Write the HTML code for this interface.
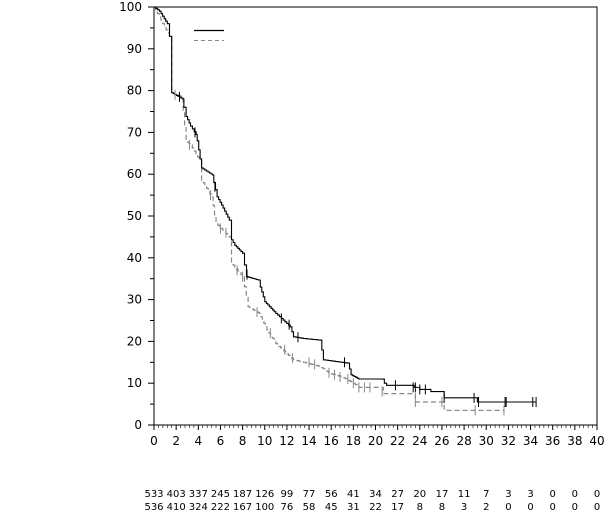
<!DOCTYPE html>
<html><head><meta charset="utf-8"><style>
body{margin:0;background:#fff;}
svg{display:block;font-family:"DejaVu Sans","Liberation Sans",sans-serif;}
</style></head><body>
<svg id="s" width="605" height="528" viewBox="0 0 605 528" xmlns="http://www.w3.org/2000/svg">
<rect x="154" y="7" width="443" height="418" fill="none" stroke="#000" stroke-width="1"/>
<g id="ax" stroke="#000" stroke-width="1"></g>
<g id="lbl" font-size="12" fill="#000"></g>
<line x1="194" y1="30.5" x2="224" y2="30.5" stroke="#000" stroke-width="1.2"/>
<line x1="194" y1="40.5" x2="224" y2="40.5" stroke="#888" stroke-width="1" stroke-dasharray="4,3"/>
<path id="g" fill="none" stroke="#888" stroke-width="1.2" stroke-dasharray="5,3"/>
<path id="b" fill="none" stroke="#000" stroke-width="1.1"/>
<g id="cens" stroke-width="1"></g>
<g id="risk" font-size="10" fill="#000" text-anchor="middle"></g>
</svg>
<script>
const X=t=>154+t*443/40, Y=v=>425-v*4.18;
const ax=document.getElementById('ax'), lbl=document.getElementById('lbl');
let h='',l='';
for(let v=0;v<=100;v+=5){const y=Y(v);h+=`<line x1="${v%10?150:148}" y1="${y}" x2="154" y2="${y}"/>`;
 if(v%10==0)l+=`<text x="142" y="${y+4}" text-anchor="end">${v}</text>`;}
for(let t=0;t<=40;t+=0.4){const x=X(t);const big=Math.abs(t-Math.round(t/2)*2)<0.01;h+=`<line x1="${x}" y1="425" x2="${x}" y2="${big?430:428}" stroke-width="${big?1:0.6}"/>`;}
for(let t=0;t<=40;t+=2)l+=`<text x="${X(t)}" y="445" text-anchor="middle">${t}</text>`;
ax.innerHTML=h;lbl.innerHTML=l;
const B=[[0,100],[0.5,99],[1.2,96],[1.4,93],[1.6,79.5],[2.6,78],[2.7,76],[2.9,73.8],[3.3,71.5],[3.8,69.5],[3.9,68],[4.3,61.5],[5.3,59.8],[5.4,58],[5.7,54.6],[6.1,52.6],[6.8,49],[7.0,44.3],[7.3,43],[8.0,41.1],[8.35,35.5],[9.4,34.7],[9.6,33],[10,29.5],[11,26.7],[11.5,25.5],[12.3,23.5],[12.6,21.1],[13.5,20.7],[15,20.3],[15.3,15.6],[17.5,14.8],[17.8,12],[18.5,11]];
const BT=[[20.5,11],[20.8,10],[21,9.5],[23.5,9],[24,8.5],[25,8],[26.2,6.5],[29,6.5],[29.2,5.5],[34.5,5.5]];
const G=[[0,100],[1.4,93],[1.6,79.5],[2.5,78.5],[2.9,68],[3.3,67],[4.1,63.4],[4.3,58.6],[5.2,54.6],[5.6,48.2],[6.8,45],[7.0,38.7],[8.0,35.5],[8.5,28.3],[9.5,26.7],[10.2,22.7],[11,19.5],[12.6,15.6],[15,14],[15.9,12.3],[17,11.5],[18,10],[18.5,9]];
const GT=[[20,9],[20.7,7.5],[23.5,7.5],[23.6,5.5],[26,5.5],[26.2,3.5],[31.6,3.5]];
function path(a,tail){let d=`M${X(a[0][0])},${Y(a[0][1])}`;
 for(let i=1;i<a.length;i++){const [t0,v0]=a[i-1],[t1,v1]=a[i];
  const n=Math.max(1,Math.round((t1-t0)/0.15));
  for(let k=1;k<=n;k++){const t=t0+(t1-t0)*k/n,v=v0+(v1-v0)*k/n;d+=`H${X(t).toFixed(1)}V${Y(v).toFixed(1)}`;}}
 for(const p of tail)d+=`H${X(p[0])}V${Y(p[1])}`;return d;}
document.getElementById('b').setAttribute('d',path(B,BT));
document.getElementById('g').setAttribute('d',path(G,GT));
let c='';
const cb=[[2.3,78.5],[3.7,70],[5.5,57],[8.4,36],[11.5,25.5],[12.2,24],[13,21],[17.2,15],[21.8,9.5],[23.4,9],[23.6,9],[24,8.5],[24.5,8.5],[26.2,6.5],[28.9,6.5],[29.3,5.5],[31.7,5.5],[31.8,5.5],[34.2,5.5],[34.5,5.5]];
cb.forEach(p=>c+=`<line x1="${X(p[0])}" x2="${X(p[0])}" y1="${Y(p[1])-5}" y2="${Y(p[1])+5}" stroke="#000"/>`);
const cg=[[1.9,79],[3.2,67],[5.1,55],[6,47],[6.5,46],[7.5,37],[8,35.5],[9.3,27],[10.5,22],[11.8,18],[12.5,16],[14,15],[14.5,14.5],[15.8,12.5],[16.3,12],[16.8,11.5],[17.5,11],[18,10],[18.5,9],[19,9],[19.5,9],[20.6,8],[23.6,5.5],[26,5.5],[29,3.5],[31.6,3.5]];
cg.forEach(p=>c+=`<line x1="${X(p[0])}" x2="${X(p[0])}" y1="${Y(p[1])-5}" y2="${Y(p[1])+5}" stroke="#888"/>`);
document.getElementById('cens').innerHTML=c;
const r1=[533,403,337,245,187,126,99,77,56,41,34,27,20,17,11,7,3,3,0,0,0];
const r2=[536,410,324,222,167,100,76,58,45,31,22,17,8,8,3,2,0,0,0,0,0];
let r='';r1.forEach((v,i)=>r+=`<text x="${X(i*2)}" y="497">${v}</text>`);
r2.forEach((v,i)=>r+=`<text x="${X(i*2)}" y="510">${v}</text>`);
document.getElementById('risk').innerHTML=r;
</script>
</body></html>
